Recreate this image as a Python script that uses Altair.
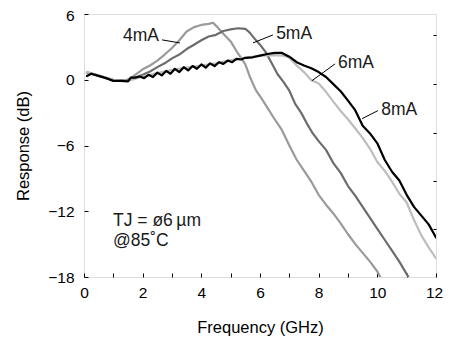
import altair as alt
import pandas as pd

SERIES = ["4mA", "5mA", "6mA", "8mA"]
COLORS = ["#9a9a9a", "#6c6c6c", "#bdbdbd", "#000000"]
WIDTHS = [2.2, 2.2, 2.2, 2.6]

f4 = [0.1, 0.5, 1.0, 1.4, 1.7, 2.0, 2.25, 2.5, 2.75, 3.0, 3.25, 3.5, 3.75, 4.0, 4.25,
      4.4, 4.55, 4.75, 5.0, 5.25, 5.5, 5.65, 5.85, 6.1, 6.45, 6.75, 7.0, 7.25, 7.5, 7.75,
      8.0, 8.25, 8.5, 8.75, 9.0, 9.25, 9.5, 9.75, 10.0, 10.1]
r4 = [0.7, 0.35, -0.05, -0.1, 0.35, 0.95, 1.3, 1.75, 2.3, 2.9, 3.6, 4.4, 4.8, 5.0, 5.1,
      5.2, 4.8, 4.2, 3.5, 2.4, 1.4, 0.3, -0.9, -1.9, -3.4, -4.6, -6.0, -7.3, -8.3, -9.3,
      -10.5, -11.4, -12.2, -13.1, -14.1, -15.0, -15.8, -16.6, -17.5, -18.0]

f5 = [0.1, 0.5, 1.0, 1.5, 1.75, 2.0, 2.25, 2.5, 2.75, 3.0, 3.25, 3.5, 3.75, 4.0, 4.25,
      4.5, 4.75, 5.0, 5.25, 5.5, 5.65, 5.8, 6.0, 6.2, 6.4, 6.6, 6.8, 7.0, 7.2, 7.4,
      7.6, 7.8, 8.0, 8.25, 8.5, 8.75, 9.0, 9.25, 9.5, 9.75, 10.0, 10.25, 10.5, 10.75, 11.06]
r5 = [0.65, 0.35, 0.0, -0.05, 0.2, 0.45, 0.75, 1.15, 1.5, 1.95, 2.3, 2.8, 3.2, 3.6, 3.95,
      4.1, 4.45, 4.6, 4.7, 4.65, 4.3, 3.8, 3.2, 2.5, 1.5, 0.5, -0.2, -1.0, -2.2, -3.0,
      -4.0, -4.9, -5.6, -6.4, -7.6, -8.5, -9.7, -10.6, -11.6, -12.6, -13.6, -14.6, -15.6, -16.6, -18.0]

f6 = [0.1, 0.5, 1.0, 1.5, 2.0, 2.5, 3.0, 3.5, 4.0, 4.5, 5.0, 5.5, 6.0, 6.5, 6.8,
      7.0, 7.25, 7.5, 7.75, 8.0, 8.25, 8.5, 8.75, 9.0, 9.25, 9.5, 9.75, 10.0, 10.25, 10.5,
      10.75, 11.0, 11.25, 11.5, 11.75, 12.0]
r6 = [0.7, 0.4, 0.0, -0.1, 0.3, 0.6, 0.9, 1.1, 1.3, 1.5, 1.8, 2.0, 2.2, 2.25, 2.2,
      2.0, 1.3, 0.7, -0.05, -0.35, -1.1, -2.0, -2.85, -3.6, -4.45, -5.3, -6.3, -7.5, -8.3, -9.3,
      -10.4, -11.2, -12.8, -14.2, -15.3, -16.3]

f8 = [0.1, 0.25, 0.5, 0.75, 1.0, 1.25, 1.5, 1.6, 1.75, 1.9, 2.05, 2.2, 2.35, 2.5, 2.65,
      2.8, 2.95, 3.1, 3.25, 3.4, 3.55, 3.7, 3.85, 4.0, 4.15, 4.3, 4.45, 4.6, 4.75, 4.9,
      5.05, 5.2, 5.35, 5.5, 5.75, 6.0, 6.25, 6.5, 6.75, 7.0, 7.25, 7.5, 7.75, 8.0, 8.25,
      8.5, 8.75, 9.0, 9.25, 9.5, 9.75, 10.0, 10.25, 10.5, 10.75, 11.0, 11.25, 11.5, 11.75, 12.0]
r8 = [0.35, 0.55, 0.35, 0.15, -0.1, -0.1, -0.15, 0.2, 0.2, 0.3, 0.15, 0.45, 0.25, 0.65, 0.4,
      0.8, 0.55, 1.0, 0.7, 1.15, 0.85, 1.25, 1.0, 1.4, 1.1, 1.5, 1.25, 1.6, 1.45, 1.75,
      1.6, 1.9, 1.85, 2.0, 2.05, 2.2, 2.35, 2.45, 2.45, 2.1, 1.6, 1.3, 1.05, 0.7, 0.25,
      -0.4, -1.05, -1.9, -2.8, -4.2, -4.9, -5.8, -7.3, -8.4, -9.2, -10.5, -11.6, -12.4, -13.2, -14.4]

X_LABELS = [0, 2, 4, 6, 8, 10, 12]
X_TICKS = [0, 1, 2, 3, 4, 5, 6, 7, 8, 9, 10, 11, 12]
Y_LABELS = [6, 0, -6, -12, -18]
RIGHT_TICKS = [4.05, -0.39, -4.86, -9.27, -13.66]

ANN_X = [1.33, 6.55, 8.66, 10.13, 0.99, 0.99]
ANN_Y = [4.0, 4.18, 1.55, -2.73, -12.9, -14.7]
ANN_TEXT = ["4mA", "5mA", "6mA", "8mA", "TJ = ø6\u2009µm", "@85˚C"]

LEAD_X = [2.66, 6.44, 8.56, 10.02]
LEAD_Y = [3.64, 4.09, 1.45, -2.82]
LEAD_X2 = [3.27, 5.76, 7.77, 9.48]
LEAD_Y2 = [3.36, 3.36, -0.09, -3.55]

FONT = "Liberation Sans"

rows = []
for name, fs, rs in [("4mA", f4, r4), ("5mA", f5, r5), ("6mA", f6, r6), ("8mA", f8, r8)]:
    assert len(fs) == len(rs), name
    for f, r in zip(fs, rs):
        rows.append({"freq": f, "resp": r, "series": name})
df = pd.DataFrame(rows)

ann = pd.DataFrame({"x": ANN_X, "y": ANN_Y, "text": ANN_TEXT})
lead = pd.DataFrame({"x": LEAD_X, "y": LEAD_Y, "x2": LEAD_X2, "y2": LEAD_Y2})
rt = pd.DataFrame({"v": RIGHT_TICKS})

xs = alt.Scale(domain=[0, 12], nice=False, zero=False)
ys = alt.Scale(domain=[-18, 6], nice=False, zero=False)

W, H = 352, 263

lab = dict(labelFont=FONT, labelFontSize=15.5, labelColor="black", labelFlush=False,
           titleFont=FONT, titleFontSize=16.5, titleColor="black", titleFontWeight="normal",
           grid=False, domain=False)

lines = alt.Chart(df).mark_line(clip=True, strokeJoin="round", strokeCap="round").encode(
    x=alt.X("freq:Q", scale=xs, axis=alt.Axis(values=X_LABELS, title="Frequency (GHz)",
                                              ticks=False, labelPadding=8, titlePadding=19,
                                              labelOffset=alt.expr("datum.value == 12 ? -2 : 0"),
                                              **lab)),
    y=alt.Y("resp:Q", scale=ys, axis=alt.Axis(values=Y_LABELS, title="Response (dB)",
                                              ticks=False, labelPadding=10, titlePadding=16,
                                              labelOffset=alt.expr("datum.value == 6 ? 1.5 : 0"),
                                              **lab)),
    color=alt.Color("series:N", scale=alt.Scale(domain=SERIES, range=COLORS), legend=None),
    strokeWidth=alt.StrokeWidth("series:N", scale=alt.Scale(domain=SERIES, range=WIDTHS), legend=None),
    detail="series:N",
)

tick_layer = alt.Chart(df).mark_line(opacity=0).encode(
    x=alt.X("freq:Q", scale=xs, axis=alt.Axis(orient="top", offset=-H, values=X_TICKS,
                                              labels=False, title=None, domain=False, grid=False,
                                              tickSize=4, tickColor="black", tickWidth=1)),
    y=alt.Y("resp:Q", scale=ys, axis=alt.Axis(orient="right", offset=-W, values=Y_LABELS,
                                              labels=False, title=None, domain=False, grid=False,
                                              tickSize=4, tickColor="black", tickWidth=1)),
    detail="series:N",
)

right_ticks = alt.Chart(rt).mark_point(opacity=0).encode(
    y=alt.Y("v:Q", scale=ys, axis=alt.Axis(orient="left", offset=-W, values=RIGHT_TICKS,
                                           labels=False, title=None, domain=False, grid=False,
                                           tickSize=3, tickColor="black", tickWidth=1)),
    x=alt.value(0),
)

leaders = alt.Chart(lead).mark_rule(color="black", strokeWidth=1).encode(
    x=alt.X("x:Q", scale=xs, axis=None),
    y=alt.Y("y:Q", scale=ys, axis=None),
    x2="x2:Q",
    y2="y2:Q",
)

texts = alt.Chart(ann).mark_text(align="left", baseline="middle", font=FONT,
                                 fontSize=17.5, color="#1a1a1a").encode(
    x=alt.X("x:Q", scale=xs, axis=None),
    y=alt.Y("y:Q", scale=ys, axis=None),
    text="text:N",
)

chart = alt.layer(lines, tick_layer, right_ticks, leaders, texts).resolve_axis(
    x="independent", y="independent"
).properties(
    width=W,
    height=H,
    padding={"left": 76, "top": 6, "right": 7, "bottom": 59},
    autosize=alt.AutoSizeParams(type="none"),
).configure_view(
    stroke="black", strokeWidth=1.2
).configure(background="white")

chart.save("out.html", embed_options={"renderer": "svg", "actions": False})
